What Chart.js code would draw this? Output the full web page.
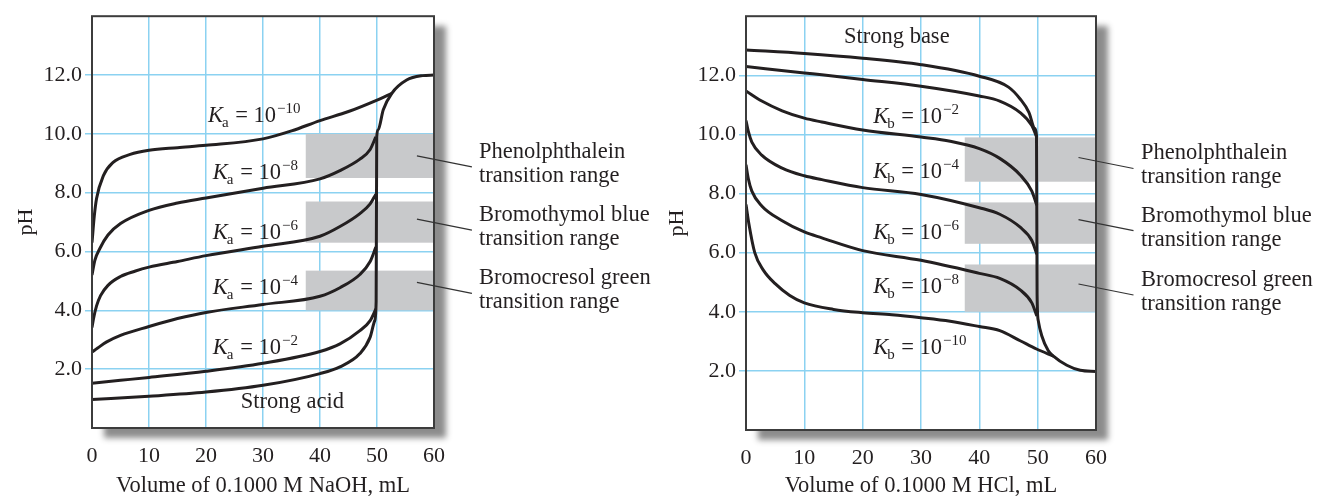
<!DOCTYPE html>
<html>
<head>
<meta charset="utf-8">
<script src="https://cdn.jsdelivr.net/npm/chart.js@4.4.1/dist/chart.umd.min.js"></script>
<style>
  html, body { margin: 0; padding: 0; background: #fff; }
  .panel { position: absolute; top: 0; height: 497px; }
  #leftPanel { left: 0; width: 660px; }
  #rightPanel { left: 660px; width: 662px; }
</style>
</head>
<body>
<div class="panel" id="leftPanel"><canvas id="acidChart"></canvas></div>
<div class="panel" id="rightPanel"><canvas id="baseChart"></canvas></div>
<script>
// --- Data ---

// Left: weak acids titrated with 0.1000 M NaOH
const strongAcidMl = [0, 10, 20, 30, 40, 43.5, 47, 48.8, 49.6, 49.85, 49.95, 50.2, 51.1, 52.6, 55.2, 58, 60];
const strongAcidPh = [0.97, 1.08, 1.22, 1.45, 1.85, 2.08, 2.53, 3.09, 3.65, 4.3, 9.9, 10.14, 10.82, 11.38, 11.83, 11.98, 12.0];
const ka2Ml = [0, 5, 10, 20, 30, 40, 43.5, 47, 48.8, 49.8];
const ka2Ph = [1.52, 1.62, 1.72, 1.93, 2.2, 2.6, 2.86, 3.31, 3.65, 4.05];
const ka4Ml = [0, 1, 2.5, 5, 10, 15, 20, 30, 40, 43.5, 47, 48.8, 49.8];
const ka4Ph = [2.58, 2.72, 2.92, 3.15, 3.45, 3.72, 3.93, 4.2, 4.48, 4.77, 5.22, 5.66, 6.15];
const ka6Ml = [0, 0.3, 0.8, 1.5, 2.8, 5, 7.5, 10, 15, 20, 30, 40, 43.5, 47, 48.8, 49.8];
const ka6Ph = [3.42, 3.75, 4.15, 4.5, 4.85, 5.15, 5.33, 5.47, 5.66, 5.86, 6.18, 6.52, 6.85, 7.29, 7.62, 7.95];
const ka8Ml = [0, 0.5, 1.4, 2.8, 5, 10, 15, 20, 30, 40, 43.5, 47, 48.8, 49.8];
const ka8Ph = [5.2, 5.7, 6.11, 6.56, 6.95, 7.4, 7.65, 7.82, 8.15, 8.47, 8.75, 9.14, 9.47, 9.9];
const ka10Ml = [0, 0.4, 0.8, 2, 3.7, 6.7, 10, 15, 20, 30, 35, 40, 45, 50, 52.6];
const ka10Ph = [6.3, 7.2, 7.8, 8.58, 9.03, 9.3, 9.44, 9.53, 9.61, 9.83, 10.1, 10.45, 10.76, 11.15, 11.38];

// Right: weak bases titrated with 0.1000 M HCl
const strongBaseMl = [0, 10, 20, 30, 40, 45, 47, 48.5, 49.5, 49.8, 49.9, 50.1, 50.7, 51.8, 52.7, 55, 57.3, 60];
const strongBasePh = [12.86, 12.74, 12.58, 12.36, 11.97, 11.6, 11.2, 10.75, 10.2, 9.95, 4.6, 3.7, 3.19, 2.69, 2.5, 2.19, 2.02, 1.98];
const kb2Ml = [0, 10, 13, 20, 30, 40, 43.5, 47, 49, 49.85];
const kb2Ph = [12.3, 12.08, 12.02, 11.86, 11.63, 11.3, 11.13, 10.74, 10.3, 9.9];
const kb4Ml = [0, 2.7, 6.2, 10, 13, 20, 30, 35, 40, 43.5, 47, 49, 49.85];
const kb4Ph = [11.47, 11.13, 10.8, 10.55, 10.42, 10.15, 9.91, 9.77, 9.52, 9.19, 8.63, 8.08, 7.6];
const kb6Ml = [0, 0.4, 1, 2.7, 6.2, 10, 13, 20, 30, 40, 43.5, 47, 49, 49.85];
const kb6Ph = [10.47, 10.1, 9.74, 9.3, 8.86, 8.6, 8.47, 8.2, 7.97, 7.52, 7.3, 6.86, 6.41, 5.95];
const kb8Ml = [0, 0.4, 1, 2.7, 6.2, 10, 13, 20, 30, 40, 43.5, 47, 49, 49.85];
const kb8Ph = [8.97, 8.5, 8.08, 7.58, 7.08, 6.7, 6.5, 6.07, 5.74, 5.3, 5.13, 4.74, 4.3, 3.86];
const kb10Ml = [0, 0.5, 1.5, 3, 5, 7.5, 10, 15, 20, 25, 30, 35, 40, 43.5, 47, 49.8, 52.7];
const kb10Ph = [7.63, 6.97, 6.0, 5.4, 4.95, 4.55, 4.3, 4.08, 3.97, 3.9, 3.8, 3.68, 3.5, 3.36, 3.02, 2.74, 2.5];

// Indicator transition ranges (pH)
const indicatorNames = ['Phenolphthalein', 'Bromothymol blue', 'Bromocresol green'];
const acidBandLow = [8.5, 6.3, 4.0];
const acidBandHigh = [10.0, 7.7, 5.35];
const baseBandLow = [8.4, 6.3, 4.0];
const baseBandHigh = [9.9, 7.7, 5.6];
const bandStartMl = 37.5;

// Curve labels (exponents)
const kaExponents = ['−10', '−8', '−6', '−4', '−2'];
const kbExponents = ['−2', '−4', '−6', '−8', '−10'];

// --- Styling ---
const curveColor = '#231f20';
const textColor = '#231f20';
const gridColor = '#8bd2f1';
const bandColor = '#c8c9cb';
const frameColor = '#3c3c3c';
const serif = '"Liberation Serif", "Times New Roman", serif';

function points(ml, ph) {
    return ml.map(function(x, i) { return { x: x, y: ph[i] }; });
}

function curve(ml, ph) {
    return {
        data: points(ml, ph),
        borderColor: curveColor,
        borderWidth: 3,
        pointRadius: 0,
        fill: false,
        cubicInterpolationMode: 'monotone'
    };
}

// K label with italic K, subscript and superscript
function drawK(ctx, x, y, sub, exp) {
    ctx.font = 'italic 22.5px ' + serif;
    ctx.fillText('K', x, y);
    x += ctx.measureText('K').width;
    ctx.font = '15px ' + serif;
    ctx.fillText(sub, x - 1, y + 5);
    x += ctx.measureText(sub).width;
    ctx.font = '22.5px ' + serif;
    ctx.fillText(' = 10', x, y);
    x += ctx.measureText(' = 10').width;
    ctx.font = '15px ' + serif;
    ctx.fillText(exp, x + 1, y - 9);
}

function panelDecor(cfg) {
    return {
        id: 'panelDecor',
        beforeDraw(chart) {
            const a = chart.chartArea, ctx = chart.ctx;
            ctx.save();
            ctx.shadowColor = 'rgba(0,0,0,0.45)';
            ctx.shadowBlur = 6;
            ctx.shadowOffsetX = 12;
            ctx.shadowOffsetY = 10;
            ctx.fillStyle = '#fff';
            ctx.fillRect(a.left, a.top, a.right - a.left, a.bottom - a.top);
            ctx.restore();
        },
        beforeDatasetsDraw(chart) {
            const xs = chart.scales.x, ys = chart.scales.y, ctx = chart.ctx;
            ctx.save();
            ctx.fillStyle = bandColor;
            cfg.bandLow.forEach(function(lo, i) {
                const x0 = xs.getPixelForValue(bandStartMl);
                const x1 = xs.getPixelForValue(60);
                const y0 = ys.getPixelForValue(cfg.bandHigh[i]);
                const y1 = ys.getPixelForValue(lo);
                ctx.fillRect(x0, y0, x1 - x0, y1 - y0);
            });
            ctx.restore();
        },
        afterDatasetsDraw(chart) {
            const a = chart.chartArea, xs = chart.scales.x, ys = chart.scales.y, ctx = chart.ctx;
            ctx.save();
            // frame
            ctx.strokeStyle = frameColor;
            ctx.lineWidth = 2;
            ctx.strokeRect(a.left, a.top, a.right - a.left, a.bottom - a.top);

            // curve labels
            ctx.fillStyle = textColor;
            ctx.textBaseline = 'alphabetic';
            ctx.textAlign = 'left';
            cfg.kLabels.forEach(function(l, i) {
                drawK(ctx, xs.getPixelForValue(l[0]), ys.getPixelForValue(l[1]), cfg.sub, cfg.exps[i]);
            });
            ctx.font = '22.5px ' + serif;
            ctx.fillText(cfg.strongText, xs.getPixelForValue(cfg.strongPos[0]), ys.getPixelForValue(cfg.strongPos[1]));

            // indicator leaders and names
            ctx.strokeStyle = '#333';
            ctx.lineWidth = 1.2;
            cfg.leaderPh.forEach(function(ph, i) {
                const sx = xs.getPixelForValue(57), sy = ys.getPixelForValue(ph);
                ctx.beginPath();
                ctx.moveTo(sx, sy);
                ctx.lineTo(sx + 55, sy + 11);
                ctx.stroke();
                const tx = a.right + 45;
                ctx.fillText(indicatorNames[i], tx, sy + 2);
                ctx.fillText('transition range', tx, sy + 26);
            });
            ctx.restore();
        }
    };
}

function makePanel(canvasId, datasets, box, titleText, yTitlePad, decor) {
    const ctx = document.getElementById(canvasId).getContext('2d');
    return new Chart(ctx, {
        type: 'line',
        data: { datasets: datasets },
        options: {
            responsive: true,
            maintainAspectRatio: false,
            animation: false,
            events: [],
            layout: { padding: { left: 0, top: box.top, right: box.right, bottom: 0 } },
            plugins: { legend: { display: false }, tooltip: { enabled: false } },
            scales: {
                x: {
                    type: 'linear',
                    min: 0,
                    max: 60,
                    afterFit: function(scale) { scale.height = box.xHeight; },
                    border: { display: false },
                    grid: {
                        drawTicks: false,
                        lineWidth: 1.5,
                        color: function(c) { return (c.tick.value === 0 || c.tick.value === 60) ? 'rgba(0,0,0,0)' : gridColor; }
                    },
                    ticks: {
                        stepSize: 10,
                        padding: 15,
                        color: textColor,
                        font: { family: serif, size: 22 }
                    },
                    title: {
                        display: true,
                        text: titleText,
                        color: textColor,
                        font: { family: serif, size: 22.5, lineHeight: 1 },
                        padding: { top: 0, bottom: 0 }
                    }
                },
                y: {
                    min: 0,
                    max: 14,
                    afterFit: function(scale) { scale.width = box.left; },
                    border: { display: false },
                    grid: {
                        tickLength: 7,
                        lineWidth: 1.5,
                        color: function(c) { return (c.tick.value === 0 || c.tick.value === 14) ? 'rgba(0,0,0,0)' : gridColor; }
                    },
                    ticks: {
                        stepSize: 2,
                        padding: 3,
                        color: textColor,
                        font: { family: serif, size: 22 },
                        callback: function(v) { return (v === 0 || v === 14) ? '' : v.toFixed(1); }
                    },
                    title: {
                        display: true,
                        text: 'pH',
                        color: textColor,
                        font: { family: serif, size: 22 },
                        padding: { top: yTitlePad, bottom: 0 }
                    }
                }
            }
        },
        plugins: [panelDecor(decor)]
    });
}

// 1. Weak acid / NaOH panel
makePanel('acidChart', [
    curve(strongAcidMl, strongAcidPh),
    curve(ka2Ml, ka2Ph),
    curve(ka4Ml, ka4Ph),
    curve(ka6Ml, ka6Ph),
    curve(ka8Ml, ka8Ph),
    curve(ka10Ml, ka10Ph)
], { left: 92, top: 13, right: 226, xHeight: 69 }, 'Volume of 0.1000 M NaOH, mL', 13, {
    bandLow: acidBandLow,
    bandHigh: acidBandHigh,
    leaderPh: [9.25, 7.1, 4.95],
    sub: 'a',
    exps: kaExponents,
    kLabels: [[20.35, 10.39], [21.2, 8.48], [21.2, 6.44], [21.2, 4.55], [21.2, 2.53]],
    strongText: 'Strong acid',
    strongPos: [26.1, 0.67]
});

// 2. Weak base / HCl panel
makePanel('baseChart', [
    curve(strongBaseMl, strongBasePh),
    curve(kb2Ml, kb2Ph),
    curve(kb4Ml, kb4Ph),
    curve(kb6Ml, kb6Ph),
    curve(kb8Ml, kb8Ph),
    curve(kb10Ml, kb10Ph)
], { left: 86, top: 7, right: 226, xHeight: 67 }, 'Volume of 0.1000 M HCl, mL', 4, {
    bandLow: baseBandLow,
    bandHigh: baseBandHigh,
    leaderPh: [9.22, 7.12, 4.94],
    sub: 'b',
    exps: kbExponents,
    kLabels: [[21.8, 10.4], [21.8, 8.51], [21.8, 6.46], [21.8, 4.64], [21.8, 2.58]],
    strongText: 'Strong base',
    strongPos: [16.8, 13.11]
});
</script>
</body>
</html>
